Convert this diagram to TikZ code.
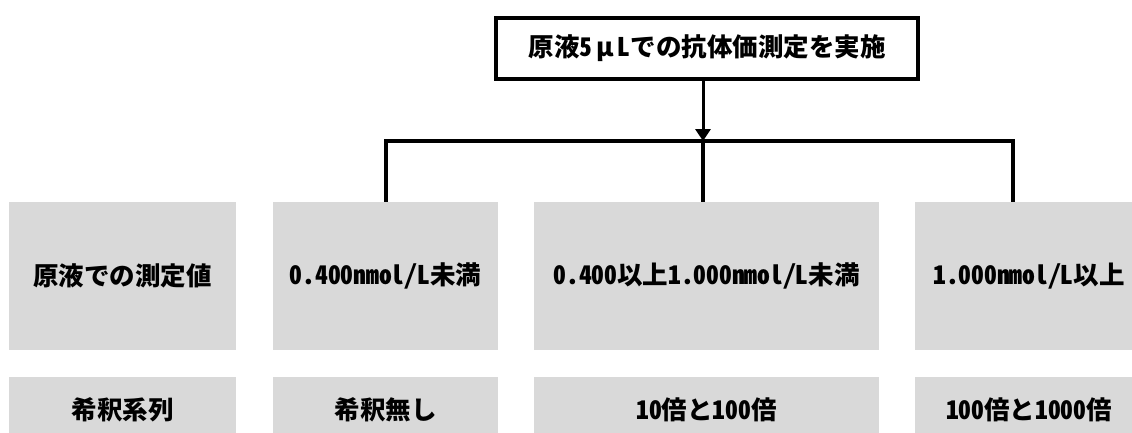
\documentclass[tikz,border=0pt]{standalone}
\usepackage{fontspec}
\setmainfont{Noto Sans CJK JP}[RawFeature=+hwid]
\usetikzlibrary{arrows.meta}
\definecolor{boxgray}{HTML}{D9D9D9}
\newcommand{\fullmu}{\makebox[1em][c]{μ}}
\tikzset{
  graybox/.style={fill=boxgray, draw=none, inner sep=0pt, font=\fontsize{25.5}{28}\selectfont\bfseries},
  topbox/.style={draw=black, line width=3.5pt, fill=white, inner sep=0pt, font=\fontsize{25.5}{28}\selectfont\bfseries},
  conn/.style={draw=black, line width=4pt, line join=miter},
  arr/.style={draw=black, line width=3pt, -{Triangle[length=12pt,width=15pt]}}
}
\begin{document}
\begin{tikzpicture}[x=1pt,y=-1pt]
\useasboundingbox (0,0) rectangle (1132,432);
\clip (0,0) rectangle (1132,432);
% top box
\node[topbox, minimum width=422pt, minimum height=61pt] (top) at (707,48.5) {原液5\fullmu Lでの抗体価測定を実施};
% row 1
\node[graybox, minimum width=227pt, minimum height=148pt] (a1) at (122.5,276) {原液での測定値};
\node[graybox, minimum width=225pt, minimum height=148pt] (a2) at (385.5,276) {0.400nmol/L未満};
\node[graybox, minimum width=345pt, minimum height=148pt] (a3) at (706.5,276) {0.400以上1.000nmol/L未満};
\node[graybox, minimum width=228pt, minimum height=148pt] (a4) at (1029,276) {1.000nmol/L以上};
% row 2
\node[graybox, minimum width=227pt, minimum height=66pt] (b1) at (122.5,410) {希釈系列};
\node[graybox, minimum width=225pt, minimum height=66pt] (b2) at (385.5,410) {希釈無し};
\node[graybox, minimum width=345pt, minimum height=66pt] (b3) at (706.5,410) {10倍と100倍};
\node[graybox, minimum width=228pt, minimum height=66pt] (b4) at (1029,410) {100倍と1000倍};
% connectors
\coordinate (j) at (703,141);
\coordinate (jl) at (385.5,141);
\coordinate (jr) at (1013,141);
\draw[conn] (a2.north) -- (jl) -- (jr) -- (jr |- a4.north);
\draw[conn] (j) -- (j |- a3.north);
\draw[arr] (top.south -| j) -- (j);
\end{tikzpicture}
\end{document}
